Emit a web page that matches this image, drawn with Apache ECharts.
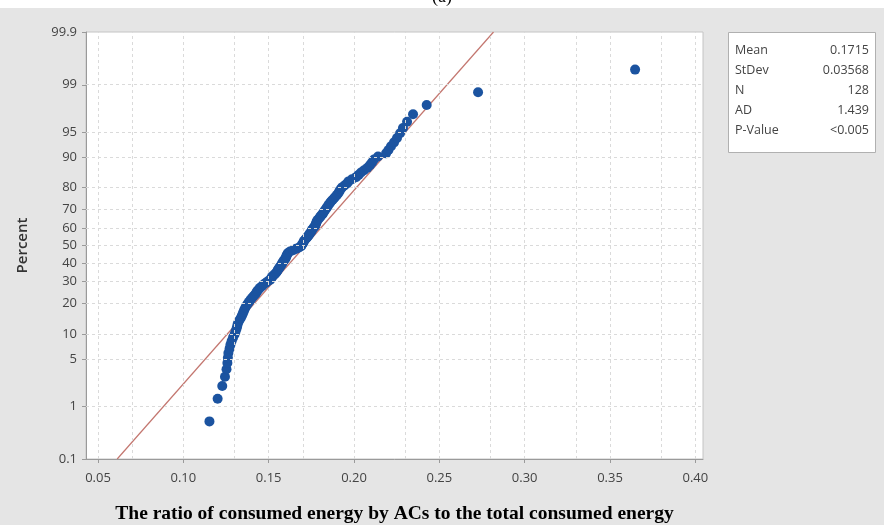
<!DOCTYPE html>
<html>
<head>
<meta charset="utf-8">
<script src="https://cdn.jsdelivr.net/npm/echarts@6/dist/echarts.min.js"></script>
<style>
html,body{margin:0;padding:0;background:#e5e5e5;}
#chart{width:884px;height:525px;}
</style>
</head>
<body>
<div id="chart"></div>
<script>
const sortedRatios = [
0.1153, 0.1201, 0.1228, 0.1244, 0.1253, 0.1258, 0.1261, 0.1264, 0.1271, 0.1276,
0.1283, 0.1291, 0.1300, 0.1306, 0.1312, 0.1316, 0.1320, 0.1327, 0.1335, 0.1342,
0.1348, 0.1353, 0.1358, 0.1364, 0.1370, 0.1378, 0.1385, 0.1394, 0.1402, 0.1411,
0.1420, 0.1428, 0.1433, 0.1441, 0.1449, 0.1461, 0.1470, 0.1482, 0.1493, 0.1508,
0.1514, 0.1520, 0.1528, 0.1537, 0.1545, 0.1551, 0.1555, 0.1561, 0.1567, 0.1572,
0.1578, 0.1581, 0.1587, 0.1593, 0.1599, 0.1602, 0.1605, 0.1609, 0.1613, 0.1625,
0.1643, 0.1660, 0.1678, 0.1690, 0.1695, 0.1700, 0.1704, 0.1708, 0.1714, 0.1722,
0.1728, 0.1734, 0.1739, 0.1745, 0.1751, 0.1754, 0.1760, 0.1766, 0.1773, 0.1776,
0.1779, 0.1782, 0.1786, 0.1795, 0.1801, 0.1807, 0.1816, 0.1821, 0.1827, 0.1833,
0.1839, 0.1845, 0.1851, 0.1858, 0.1865, 0.1874, 0.1883, 0.1892, 0.1901, 0.1909,
0.1915, 0.1921, 0.1930, 0.1944, 0.1959, 0.1968, 0.1988, 0.2012, 0.2027, 0.2041,
0.2059, 0.2079, 0.2094, 0.2106, 0.2117, 0.2141, 0.2188, 0.2202, 0.2217, 0.2235,
0.2252, 0.2270, 0.2287, 0.2311, 0.2346, 0.2426, 0.2727, 0.3647
];
// Fitted normal parameters (from the stats box)
const fitMean = 0.1715;
const fitStDev = 0.03568;
// Stats box
const statNames = ['Mean', 'StDev', 'N', 'AD', 'P-Value'];
const statValues = ['0.1715', '0.03568', '128', '1.439', '<0.005'];
// Axis ticks
const percentTicks = [0.1, 1, 5, 10, 20, 30, 40, 50, 60, 70, 80, 90, 95, 99, 99.9];
const percentTickLabels = ['0.1','1','5','10','20','30','40','50','60','70','80','90','95','99','99.9'];
const xTicks = [0.05, 0.10, 0.15, 0.20, 0.25, 0.30, 0.35, 0.40];
const xTickLabels = ['0.05','0.10','0.15','0.20','0.25','0.30','0.35','0.40'];
const xGridLines = [0.05, 0.075, 0.10, 0.125, 0.15, 0.175, 0.20, 0.225, 0.25, 0.275, 0.30, 0.325, 0.35, 0.375, 0.40];
const xTitle = 'The ratio of consumed energy by ACs to the total consumed energy';

// inverse standard normal CDF (probability-plot scale)
function invNorm(p) {
  const a=[-3.969683028665376e+01,2.209460984245205e+02,-2.759285104469687e+02,1.383577518672690e+02,-3.066479806614716e+01,2.506628277459239e+00];
  const b=[-5.447609879822406e+01,1.615858368580409e+02,-1.556989798598866e+02,6.680131188771972e+01,-1.328068155288572e+01];
  const c=[-7.784894002430293e-03,-3.223964580411365e-01,-2.400758277161838e+00,-2.549732539343734e+00,4.374664141464968e+00,2.938163982698783e+00];
  const d=[7.784695709041462e-03,3.224671290700398e-01,2.445134137142996e+00,3.754408661907416e+00];
  const pl=0.02425, ph=1-pl; let q,r;
  if(p<pl){q=Math.sqrt(-2*Math.log(p));return (((((c[0]*q+c[1])*q+c[2])*q+c[3])*q+c[4])*q+c[5])/((((d[0]*q+d[1])*q+d[2])*q+d[3])*q+1);}
  if(p<=ph){q=p-0.5;r=q*q;return (((((a[0]*r+a[1])*r+a[2])*r+a[3])*r+a[4])*r+a[5])*q/(((((b[0]*r+b[1])*r+b[2])*r+b[3])*r+b[4])*r+1);}
  q=Math.sqrt(-2*Math.log(1-p));return -(((((c[0]*q+c[1])*q+c[2])*q+c[3])*q+c[4])*q+c[5])/((((d[0]*q+d[1])*q+d[2])*q+d[3])*q+1);
}

const yTickZ = percentTicks.map(p => invNorm(p / 100));
const yMin = yTickZ[0], yMax = yTickZ[yTickZ.length - 1];
const n = sortedRatios.length;
// Minitab plotting positions (median ranks)
const points = sortedRatios.map((v, i) => [v, invNorm((i + 1 - 0.3) / (n + 0.4))]);
const fitLine = [[fitMean + fitStDev * yMin, yMin], [fitMean + fitStDev * yMax, yMax]];

const labelFont = '"Open Sans", "Noto Sans", sans-serif';
const gridLineStyle = {type: [3, 3], color: '#dadada', width: 1};

const chart = echarts.init(document.getElementById('chart'));
chart.setOption({
  animation: false,
  backgroundColor: '#e5e5e5',
  grid: {left: 86, right: 181, top: 32, bottom: 66, containLabel: false, outerBoundsMode: 'none',
    show: true, backgroundColor: '#ffffff', borderColor: '#c4c4c4', borderWidth: 1},
  xAxis: {
    type: 'value', min: 0.04297, max: 0.4045,
    axisLine: {show: true, onZero: false, lineStyle: {color: '#9a9a9a'}},
    axisTick: {show: true, customValues: xTicks, length: 4, lineStyle: {color: '#9a9a9a'}},
    axisLabel: {customValues: xTicks, margin: 13, color: '#444', fontSize: 13, fontFamily: labelFont,
      formatter: v => { const i = xTicks.findIndex(t => Math.abs(t - v) < 1e-9); return i >= 0 ? xTickLabels[i] : ''; }},
    splitLine: {show: false},
    name: xTitle, nameLocation: 'middle', nameGap: 45,
    nameTextStyle: {fontFamily: '"Liberation Serif", "Times New Roman", serif', fontWeight: 'bold', fontSize: 19.5, color: '#000'}
  },
  yAxis: {
    type: 'value', min: yMin, max: yMax,
    axisLine: {show: true, onZero: false, lineStyle: {color: '#9a9a9a'}},
    axisTick: {show: true, customValues: yTickZ, length: 4, lineStyle: {color: '#9a9a9a'}},
    axisLabel: {customValues: yTickZ, margin: 9, color: '#444', fontSize: 13, fontFamily: labelFont,
      formatter: v => { const i = yTickZ.findIndex(t => Math.abs(t - v) < 1e-6); return i >= 0 ? percentTickLabels[i] : ''; }},
    splitLine: {show: false},
    name: 'Percent', nameLocation: 'middle', nameGap: 56, nameRotate: 90,
    nameTextStyle: {fontFamily: labelFont, fontWeight: 600, fontSize: 15, color: '#333'}
  },
  series: [
    {
      type: 'line', data: [], silent: true,
      markLine: {
        silent: true, symbol: ['none', 'none'], label: {show: false}, lineStyle: gridLineStyle, animation: false,
        data: xGridLines.map(v => ({xAxis: v})).concat(yTickZ.slice(1, -1).map(z => ({yAxis: z})))
      }
    },
    {
      type: 'line', data: fitLine, symbol: 'none', silent: true, z: 3,
      lineStyle: {color: '#c3766f', width: 1.2}
    },
    {
      type: 'scatter', data: points, symbolSize: 10, z: 4,
      itemStyle: {color: '#1b53a0', opacity: 1}
    }
  ],
  graphic: [
    {type: 'rect', left: 0, top: 0, shape: {width: 884, height: 8}, style: {fill: '#ffffff'}, z: 0},
    {type: 'text', left: 432, top: -12, style: {text: '(a)', font: '18px "Liberation Serif", serif', fill: '#000'}, z: 1},
    {type: 'rect', left: 728, top: 32, shape: {width: 147, height: 120}, style: {fill: '#ffffff', stroke: '#b0b0b0', lineWidth: 1}},
    ...statNames.map((s, i) => ({type: 'text', left: 735, top: 44 + i * 20,
      style: {text: s, font: '12.5px ' + labelFont, fill: '#444'}})),
    ...statValues.map((s, i) => ({type: 'text', right: 884 - 869, top: 44 + i * 20,
      style: {text: s, font: '12.5px ' + labelFont, fill: '#444', textAlign: 'right'}}))
  ]
});
</script>
</body>
</html>
